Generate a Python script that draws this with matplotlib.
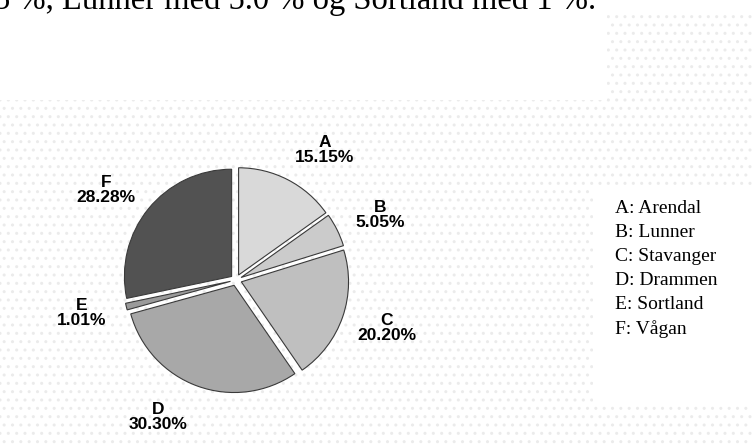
import numpy as np
import matplotlib.pyplot as plt
from matplotlib.patches import Rectangle

letters = ['A', 'B', 'C', 'D', 'E', 'F']
towns = ['Arendal', 'Lunner', 'Stavanger', 'Drammen', 'Sortland', 'Vågan']
counts = [15, 5, 20, 30, 1, 28]
shades = ['#d9d9d9', '#cbcbcb', '#bfbfbf', '#a8a8a8', '#9a9a9a', '#525252']
header = '5 %, Lunner med 5.0 % og Sortland med 1 %.'

# small angular nudges (deg) so labels sit like in the scanned chart
label_nudge = [-7, -2, 1.5, -9.5, -1.5, 4.5]

W, H = 752, 447
fig = plt.figure(figsize=(W / 100, H / 100), dpi=100)
fig.patch.set_facecolor('white')


def px_rect(x0, y0, x1, y1, **kw):
    # rectangle in pixel coords (origin top-left)
    r = Rectangle((x0 / W, 1 - y1 / H), (x1 - x0) / W, (y1 - y0) / H,
                  transform=fig.transFigure, **kw)
    fig.add_artist(r)


# faint dotted scan background
dots = dict(facecolor='white', edgecolor='#ebebeb', hatch='..', linewidth=0, zorder=0)
px_rect(0, 100, W, H, **dots)
px_rect(607, 15, W, 100, **dots)
px_rect(593, 185, W, 403, facecolor='white', edgecolor='none', zorder=0.5)

fig.text(-6 / W, 1 - 9 / H, header, family='Liberation Serif', fontsize=23.5,
         va='baseline', ha='left')

total = sum(counts)
labels = [f'{l}\n{c / total * 100:.2f}%' for l, c in zip(letters, counts)]

ax = fig.add_axes([(236 - 158) / W, (H - 280 - 158) / H, 316 / W, 316 / H])
ax.set_facecolor('none')
wedges, texts = ax.pie(counts, labels=labels, colors=shades, startangle=90,
                       counterclock=False, explode=[0.05] * 6, radius=0.95,
                       labeldistance=1.42,
                       wedgeprops=dict(edgecolor='#3a3a3a', linewidth=0.8),
                       textprops=dict(family='Liberation Sans', weight='bold',
                                      fontsize=12.5, ha='center', va='center',
                                      multialignment='center', linespacing=1.0))
for w, t, d in zip(wedges, texts, label_nudge):
    x, y = t.get_position()
    a = np.radians(d)
    t.set_position((x * np.cos(a) - y * np.sin(a), x * np.sin(a) + y * np.cos(a)))
ax.set_xlim(-1.4, 1.4)
ax.set_ylim(-1.4, 1.4)
ax.set_aspect('equal')
ax.axis('off')

legend_text = '\n'.join(f'{l}: {t}' for l, t in zip(letters, towns))
fig.text(615 / W, 1 - 200 / H, legend_text, family='Liberation Serif',
         fontsize=14, va='top', ha='left', linespacing=1.53)

fig.savefig('out.png', dpi=100)
